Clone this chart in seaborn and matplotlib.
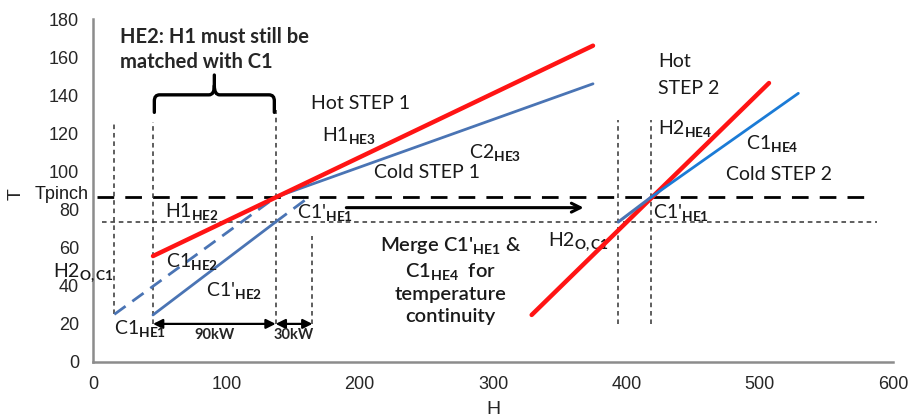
import numpy as np
import pandas as pd
import matplotlib
matplotlib.use("Agg")
import matplotlib.pyplot as plt
import seaborn as sns
from matplotlib.path import Path
from matplotlib.patches import PathPatch

# ---------------- data ----------------
T_pinch = 86.5
T_c1p = 73.5

# hot / cold streams: enthalpy H (kW) and temperature T
H1_H, H1_T = [45, 375], [55.6, 166]            # H1 (hot, red)
C2_H, C2_T = [137, 375], [86.5, 146]           # C2 (cold step 1)
C1HE2_H, C1HE2_T = [16, 137], [25, 86.5]       # C1 HE2 (dashed)
C1pHE2_H, C1pHE2_T = [45, 137], [24.7, 73.5]   # C1' HE2
C1pHE1_H, C1pHE1_T = [137, 161], [73.5, 86.0]  # C1' HE1 (dashed)
H2_H, H2_T = [329, 507], [24.7, 146.4]         # H2 (hot step 2)
C1pHE1r_H, C1pHE1r_T = [394, 418.6], [73.5, 86.5]  # C1' HE1 merged
C1HE4_H, C1HE4_T = [418.6, 529], [86.5, 141]   # C1 HE4

# vertical guide lines: x, bottom, top
vlines_x = [16, 45, 137, 164.6, 394, 418.6]
vlines_lo = [25, 20, 20, 20, 20, 20]
vlines_hi = [126, 126, 132, 66, 127, 127]

# duty arrows
duty_labels = ["90kW", "30kW"]
duty_from = [45, 137]
duty_to = [137, 164.6]

x_ticks = [0, 100, 200, 300, 400, 500, 600]
y_ticks = [0, 20, 40, 60, 80, 100, 120, 140, 160, 180]

# ---------------- style ----------------
sns.set_style("white")
plt.rcParams["font.family"] = ["Liberation Sans", "DejaVu Sans"]
plt.rcParams["mathtext.fontset"] = "custom"
plt.rcParams["mathtext.rm"] = "Lato"
plt.rcParams["mathtext.bf"] = "Lato:bold"
plt.rcParams["mathtext.it"] = "Lato:italic"

RED = "#FF1414"
BLUE = "#4A74B4"
BLUE2 = "#1B7BD6"
LBL = dict(family=["Lato", "DejaVu Sans"], fontsize=14, color="#1a1a1a")

fig = plt.figure(figsize=(9.09, 4.2), dpi=100)
ax = fig.add_axes([93 / 909, 1 - 362 / 420, 800 / 909, 343 / 420])


def seg(h, t, **kw):
    df = pd.DataFrame({"H": h, "T": t})
    sns.lineplot(data=df, x="H", y="T", ax=ax, sort=False, estimator=None, **kw)


# guide lines
ax.plot([3, 585], [T_pinch, T_pinch], color="black", lw=2.0, dashes=(6, 4), zorder=2)
ax.plot([7, 588], [T_c1p, T_c1p], color="#333333", lw=1.1, dashes=(3, 2.5), zorder=2)
for x, lo, hi in zip(vlines_x, vlines_lo, vlines_hi):
    ax.plot([x, x], [lo, hi], color="#333333", lw=1.1, dashes=(3, 2.5), zorder=2)

# streams
seg(C1HE2_H, C1HE2_T, color=BLUE, lw=2.0, dashes=(5, 3), zorder=3)
seg(C1pHE1_H, C1pHE1_T, color=BLUE, lw=2.0, dashes=(5, 3), zorder=3)
seg(C1pHE2_H, C1pHE2_T, color=BLUE, lw=2.0, zorder=3)
seg(C2_H, C2_T, color=BLUE, lw=2.0, zorder=3)
seg(H1_H, H1_T, color=RED, lw=3.2, zorder=4)
seg(H2_H, H2_T, color=RED, lw=3.2, zorder=4)
seg(C1pHE1r_H, C1pHE1r_T, color=BLUE, lw=2.2, zorder=5)
seg(C1HE4_H, C1HE4_T, color=BLUE2, lw=2.0, zorder=5)

# duty arrows
for lab, a, b in zip(duty_labels, duty_from, duty_to):
    ax.annotate("", xy=(b, 20), xytext=(a, 20),
                arrowprops=dict(arrowstyle="<|-|>", color="black", lw=1.6,
                                mutation_scale=14, shrinkA=0, shrinkB=0))
    ax.text((a + b) / 2, 14, lab, ha="center", va="center",
            family=["Lato", "DejaVu Sans"], fontsize=10.5, fontweight="bold")

# merge arrow
ax.annotate("", xy=(368, 81), xytext=(190, 81),
            arrowprops=dict(arrowstyle="->", color="black", lw=2.2,
                            mutation_scale=16, shrinkA=0, shrinkB=0))

# curly brace
verts = [(46, 131), (46, 137), (46, 140.2), (50, 140.2), (87, 140.2),
         (91, 140.2), (91, 145), (91, 150.6),
         (136, 131), (136, 137), (136, 140.2), (132, 140.2), (95, 140.2),
         (91, 140.2), (91, 145)]
codes = [Path.MOVETO, Path.LINETO, Path.CURVE3, Path.CURVE3, Path.LINETO,
         Path.CURVE3, Path.CURVE3, Path.LINETO,
         Path.MOVETO, Path.LINETO, Path.CURVE3, Path.CURVE3, Path.LINETO,
         Path.CURVE3, Path.CURVE3]
ax.add_patch(PathPatch(Path(verts, codes), facecolor="none", edgecolor="black",
                       lw=2.4, capstyle="round", zorder=5))

# texts
ax.text(20, 164, "HE2: H1 must still be\nmatched with C1", ha="left", va="center",
        family=["Lato", "DejaVu Sans"], fontsize=14.5, fontweight="bold",
        linespacing=1.35)
ax.text(163.5, 135.4, "Hot STEP 1", ha="left", va="center", **LBL)
ax.text(172, 119, r"H1$_{\mathbf{HE3}}$", ha="left", va="center", **LBL)
ax.text(282, 110, r"C2$_{\mathbf{HE3}}$", ha="left", va="center", **LBL)
ax.text(211, 99.7, "Cold STEP 1", ha="left", va="center", **LBL)
ax.text(-3.5, 88.0, "Tpinch", ha="right", va="center", fontsize=13, color="#1a1a1a")
ax.text(54, 79, r"H1$_{\mathbf{HE2}}$", ha="left", va="center", **LBL)
ax.text(153, 78.5, r"C1'$_{\mathbf{HE1}}$", ha="left", va="center", **LBL)
ax.text(55, 52.5, r"C1$_{\mathbf{HE2}}$", ha="left", va="center", **LBL)
ax.text(-30, 47, r"H2$_{\mathbf{O,C1}}$", ha="left", va="center", **LBL)
ax.text(85, 37.5, r"C1'$_{\mathbf{HE2}}$", ha="left", va="center", **LBL)
ax.text(16, 17.5, r"C1$_{\mathbf{HE1}}$", ha="left", va="center", **LBL)
ax.text(268, 43, "Merge C1'$_{\\mathbf{HE1}}$ &\nC1$_{\\mathbf{HE4}}$  for\ntemperature\ncontinuity",
        ha="center", va="center", family=["Lato", "DejaVu Sans"], fontsize=14.5,
        fontweight="semibold", linespacing=1.3, color="#1a1a1a")
ax.text(341, 63, r"H2$_{\mathbf{O,C1}}$", ha="left", va="center", **LBL)
ax.text(424, 157.5, "Hot", ha="left", va="center", **LBL)
ax.text(424, 143.6, "STEP 2", ha="left", va="center", **LBL)
ax.text(424, 122.6, r"H2$_{\mathbf{HE4}}$", ha="left", va="center", **LBL)
ax.text(490, 114.5, r"C1$_{\mathbf{HE4}}$", ha="left", va="center", **LBL)
ax.text(475, 98.6, "Cold STEP 2", ha="left", va="center", **LBL)
ax.text(420, 78.5, r"C1'$_{\mathbf{HE1}}$", ha="left", va="center", **LBL)

# axes
ax.set_xlim(0, 600)
ax.set_ylim(0, 180)
ax.set_xticks(x_ticks)
ax.set_yticks(y_ticks)
ax.tick_params(axis="both", labelsize=13, length=5, width=1.5, color="#8c8c8c",
               direction="out", pad=5)
sns.despine(ax=ax)
for s in ["left", "bottom"]:
    ax.spines[s].set_color("#8c8c8c")
    ax.spines[s].set_linewidth(1.8)
ax.set_xlabel("H", fontsize=14, labelpad=6)
ax.set_ylabel("T", fontsize=14)
ax.yaxis.set_label_coords(-0.085, 0.49)

fig.savefig("out.png", dpi=100)
